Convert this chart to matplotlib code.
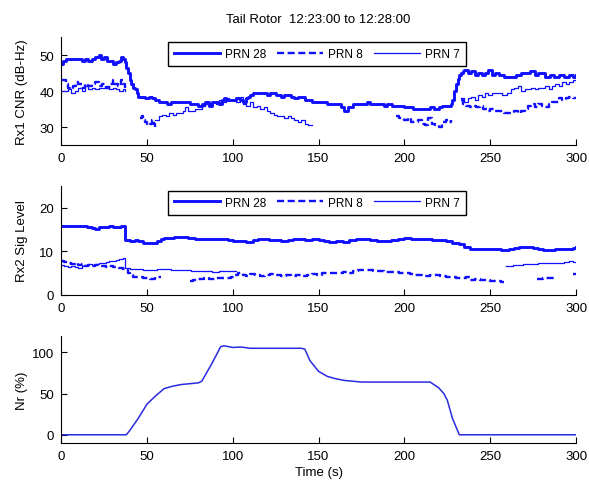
import numpy as np
import matplotlib
matplotlib.use("Agg")
import matplotlib.pyplot as plt

plt.rcParams['font.family'] = ['Liberation Sans', 'DejaVu Sans']
plt.rcParams['font.size'] = 9.5

BLUE = '#1010ff'

# ---- Rx1 carrier-to-noise (dB-Hz) ----
rx1_prn28_t = [0, 1, 3, 6, 9, 12, 14, 16, 18, 20, 22, 23, 25, 27, 29, 30, 32, 34, 35, 36, 37, 38, 39, 40,
               41, 42, 43, 44, 45, 47, 49, 51, 53, 55, 57, 60, 62, 64, 68, 72, 75, 78, 80, 82, 84, 86, 88,
               90, 92, 94, 95, 96, 98, 100, 102, 104, 106, 108, 109, 110, 112, 115, 118, 120, 122, 125, 128,
               130, 132, 134, 136, 138, 140, 142, 144, 146, 150, 155, 160, 163, 165, 167, 170, 175, 178, 180,
               185, 188, 190, 193, 196, 200, 203, 205, 208, 212, 215, 217, 220, 222, 225, 227, 228, 229, 230,
               231, 232, 233, 234, 235, 237, 239, 241, 243, 245, 247, 249, 251, 253, 255, 258, 260, 263, 265,
               268, 270, 273, 276, 278, 280, 282, 285, 287, 290, 293, 296, 298, 300]
rx1_prn28_v = [47.5, 48.5, 49, 49, 49, 48.5, 49, 48.5, 49, 49.5, 50, 49, 49.5, 48.5, 48.5, 47.5, 48, 48.5,
               49.5, 49, 48, 46.5, 45, 43, 42, 41, 40.5, 39.5, 38.5, 38.5, 38, 38.5, 38, 37.5, 37, 37, 36.5,
               37, 37, 37, 36.5, 36.5, 36, 36.5, 37, 36, 37, 37, 36.5, 37.5, 38, 37.5, 37.5, 37.5, 38, 37.5,
               37, 38, 38.5, 39, 39.5, 39.5, 39.5, 39, 39.5, 39, 38.5, 39, 39, 38.5, 38, 38.5, 38.5, 37.5,
               37.5, 37, 37, 36.5, 36.5, 35.5, 34.5, 35.5, 36.5, 36.5, 37, 36.5, 36.5, 36, 36.5, 36, 36,
               35.5, 35.5, 35, 35, 35, 35.5, 35, 35.5, 36, 36, 36.5, 37.5, 40, 42, 43.5, 44.5, 45, 45.5, 46,
               45, 45.5, 44.5, 45, 44.5, 45, 46, 44.5, 45, 44.5, 44, 44, 44, 44.5, 45, 45, 45.5, 44.5, 45,
               45, 44, 44.5, 44, 44.5, 44, 44.5, 44, 44.5]

rx1_prn8_t = [[0, 2, 3, 4, 5, 7, 9, 10, 12, 14, 16, 18, 20, 22, 24, 26, 28, 30, 31, 33, 34, 35, 36, 37],
              [46, 47, 48, 49, 50, 51, 52, 53, 54, 55],
              [195, 197, 200, 202, 204, 206, 208, 210, 212, 214, 216, 218, 220, 222, 224, 226, 227],
              [233, 234, 236, 238, 240, 242, 244, 246, 248, 250, 252, 255, 258, 261, 264, 266, 268, 270,
               272, 274, 276, 278, 280, 282, 284, 286, 288, 290, 292, 294, 296, 298, 300]]
rx1_prn8_v = [[43, 43, 42, 41, 40.5, 41.5, 42.5, 42, 41, 42, 41.5, 42, 42.5, 41.5, 42, 41, 42, 43, 42,
               41.5, 42, 43, 42, 41],
              [32.5, 33, 32, 31.5, 31, 30.5, 31, 32, 31, 30],
              [33, 32.5, 32, 32.5, 31.5, 31.5, 32, 31, 30.5, 32.5, 31, 30.5, 30, 31.5, 32, 31.5, 32],
              [37.5, 36.5, 36, 35.5, 36, 35.5, 36, 35, 34.5, 35, 34.5, 34.5, 34, 34, 34.5, 34, 34.5, 35,
               36, 36.5, 35.5, 36.5, 36, 35.5, 36.5, 37, 37, 38, 37.5, 38, 38.5, 38, 38.5]]

rx1_prn7_t = [[0, 2, 4, 6, 8, 10, 12, 14, 16, 18, 20, 22, 24, 26, 28, 30, 32, 34, 36, 37],
              [55, 57, 59, 61, 63, 65, 67, 69, 71, 72, 74, 76, 78, 80, 82, 84, 86, 88, 90, 92, 94, 96, 98,
               100, 102, 104, 105, 106, 108, 110, 112, 114, 116, 118, 120, 122, 124, 126, 128, 130, 132,
               134, 136, 138, 140, 142, 144, 146],
              [233, 235, 237, 239, 241, 243, 245, 247, 249, 251, 254, 257, 260, 262, 264, 266, 268, 270,
               272, 274, 276, 278, 280, 282, 284, 286, 288, 290, 292, 294, 296, 298, 300]]
rx1_prn7_v = [[40, 40, 40.5, 39.5, 40, 41, 40, 41.5, 40.5, 41, 40.5, 41, 41, 41.5, 40.5, 41, 40.5, 40,
               40.5, 40],
              [32, 33, 33.5, 33, 34, 33.5, 34, 34, 34.5, 35.5, 34.5, 34.5, 35, 35, 36, 36.5, 36.5, 37,
               36.5, 37.5, 37, 38, 37.5, 37.5, 37, 37.5, 38.5, 36.5, 36, 37, 35.5, 36, 35, 35.5, 34.5, 34,
               33.5, 33, 33, 32.5, 33, 32.5, 32, 31.5, 32, 31, 30.5, 30.5],
              [38, 37, 38, 38.5, 37.5, 39, 38.5, 39.5, 39, 39.5, 39.5, 39, 39.5, 40.5, 41, 41.5, 40, 40.5,
               40.5, 41, 40.5, 41, 41, 41.5, 40.5, 41.5, 42, 41.5, 42.5, 42, 42.5, 43, 42.5]]

# ---- Rx2 signal level ----
rx2_prn28_t = [0, 5, 10, 15, 18, 20, 22, 25, 28, 30, 35, 37, 37.5, 40, 43, 45, 48, 50, 53, 56, 58, 60, 63,
               66, 70, 74, 78, 82, 86, 90, 94, 97, 100, 104, 108, 112, 115, 118, 121, 125, 128, 132, 135,
               138, 142, 146, 150, 153, 156, 160, 164, 168, 172, 176, 180, 184, 188, 192, 196, 200, 204,
               208, 212, 216, 220, 224, 228, 232, 235, 238, 241, 245, 248, 252, 256, 258, 261, 264, 267,
               270, 273, 275, 278, 281, 284, 288, 292, 295, 298, 300]
rx2_prn28_v = [15.8, 15.8, 15.8, 15.6, 15.3, 15, 15.5, 15.6, 15.8, 15.6, 15.8, 15.8, 12.5, 12.4, 12.5,
               12.3, 12, 11.8, 12, 12.3, 12.8, 13, 13.1, 13.2, 13.2, 13, 12.9, 12.8, 12.9, 12.7, 12.8,
               12.5, 12.3, 12.4, 12.2, 12.5, 12.7, 12.8, 12.6, 12.6, 12.4, 12.5, 12.7, 12.7, 12.6, 12.8,
               12.6, 12.4, 12.2, 12.3, 12.2, 12.6, 12.8, 12.7, 12.5, 12.4, 12.3, 12.6, 12.8, 13, 12.9, 12.7,
               12.8, 12.6, 12.5, 12.3, 12, 11.6, 11, 10.6, 10.4, 10.5, 10.6, 10.4, 10.3, 10.2, 10.5, 10.7,
               10.9, 11, 10.9, 10.7, 10.4, 10.2, 10.3, 10.4, 10.5, 10.6, 10.8, 11]

rx2_prn8_t = [[0, 2, 4, 6, 8, 10, 12, 14, 16, 18, 20, 22, 24, 26, 28, 30, 32, 34, 36, 38, 39, 40, 42,
               44, 46, 48, 50, 52, 55, 58],
              [75, 77, 80, 83, 86, 90, 93, 96, 99, 101, 103, 106, 108, 110, 113, 116, 119, 122, 125, 128,
               131, 134, 137, 140, 143, 146, 149, 152, 155, 158, 161, 164, 167, 170, 173, 176, 179, 182,
               185, 188, 191, 194, 197, 200, 203, 206, 209, 212, 215, 218, 221, 224, 227, 230, 233, 236,
               238, 241, 244, 247, 250, 253, 256, 258],
              [277, 281, 284, 287, 288],
              [298, 300]]
rx2_prn8_v = [[7.8, 7.5, 7.2, 7, 7.2, 6.8, 7, 6.7, 6.9, 6.5, 6.8, 6.7, 6.6, 6.4, 6.5, 6.3, 6.4, 6.2,
               6, 5.6, 5, 4.5, 4.2, 4, 4, 3.8, 3.8, 3.7, 4, 4],
              [3.2, 3.4, 3.6, 3.8, 3.7, 3.8, 3.9, 3.8, 4.2, 4.5, 5, 4.6, 4.4, 4.7, 4.5, 4.3, 4.5, 4.7,
               4.6, 4.3, 4.5, 4.4, 4.5, 4.3, 4.5, 4.7, 4.6, 4.9, 5, 5.1, 5, 5.2, 5.1, 5.4, 5.6, 5.8, 5.6,
               5.4, 5.5, 5.2, 5.3, 5.2, 5, 5, 4.8, 4.5, 4.6, 4.4, 4.5, 4.5, 4.3, 4.2, 4, 3.9, 3.8, 4, 3.5,
               3.6, 3.4, 3.5, 3.2, 3.2, 3.0, 3.0],
              [3.7, 3.8, 3.8, 4.0, 4.0],
              [4.7, 4.7]]

rx2_prn7_t = [[0, 2, 4, 6, 8, 10, 12, 14, 16, 18, 20, 22, 24, 26, 28, 30, 32, 34, 36, 37, 37.5, 40, 44,
               48, 52, 56, 60, 64, 68, 72, 76, 80, 84, 88, 92, 96, 100, 102],
              [259, 261, 263, 266, 269, 272, 275, 278, 281, 284, 287, 290, 293, 296, 298, 300]]
rx2_prn7_v = [[6.8, 6.5, 6.3, 6.5, 6.4, 6.2, 6.5, 6.8, 7, 6.8, 7.1, 7.2, 7.4, 7.6, 7.7, 7.8, 8, 8.2,
               8.4, 8.5, 6.2, 6, 5.9, 5.8, 5.7, 5.9, 6, 5.8, 5.8, 5.6, 5.5, 5.4, 5.4, 5.3, 5.4, 5.5, 5.5,
               5.4],
              [6.5, 6.7, 6.9, 6.8, 7, 7.1, 7, 7.3, 7.2, 7.3, 7.4, 7.3, 7.5, 7.7, 7.6, 7.6]]

# ---- Rotor speed Nr (%) ----
nr_t = [0, 38, 40, 45, 50, 55, 60, 65, 70, 75, 80, 82, 88, 93, 95, 100, 105, 110, 140, 142, 145, 150,
        155, 160, 165, 175, 215, 220, 223, 225, 228, 232, 300]
nr_v = [0, 0, 5, 20, 37, 47, 56, 59, 61, 62, 63, 65, 87, 107, 108, 106, 106.5, 105, 105, 104, 90, 77,
        71, 68, 66, 64, 64, 57, 50, 42, 20, 0, 0]

legend_labels = ['PRN 28', 'PRN 8', 'PRN 7']
x_ticks = [0, 50, 100, 150, 200, 250, 300]


def join_segments(ts, vs):
    """Concatenate gap-separated segments with NaN breaks."""
    t_all, v_all = [], []
    for t, v in zip(ts, vs):
        t_all += list(t) + [np.nan]
        v_all += list(v) + [np.nan]
    return np.array(t_all), np.array(v_all)


def style_axes(ax, yticks, ylim):
    ax.set_xlim(0, 300)
    ax.set_ylim(*ylim)
    ax.set_xticks(x_ticks)
    ax.set_yticks(yticks)
    ax.spines['top'].set_visible(False)
    ax.spines['right'].set_visible(False)
    ax.tick_params(direction='in', length=4, width=0.8, pad=5)


def add_legend(ax):
    leg = ax.legend(loc='upper center', bbox_to_anchor=(0.497, 0.955), ncol=3, frameon=True,
                    fancybox=False, edgecolor='black', framealpha=1, handlelength=3.9,
                    columnspacing=0.9, handletextpad=0.45, borderpad=0.5, borderaxespad=0,
                    fontsize=8.5)
    leg.get_frame().set_linewidth(1.0)


fig = plt.figure(figsize=(5.89, 4.89), dpi=100)
ax1 = fig.add_axes([0.1036, 0.701, 0.8744, 0.221])
ax2 = fig.add_axes([0.1036, 0.395, 0.8744, 0.223])
ax3 = fig.add_axes([0.1036, 0.092, 0.8744, 0.219])

# Panel 1
ax1.plot(rx1_prn28_t, rx1_prn28_v, color=BLUE, lw=2.1, drawstyle='steps-post', label=legend_labels[0])
t, v = join_segments(rx1_prn8_t, rx1_prn8_v)
ax1.plot(t, v, color=BLUE, lw=1.7, ls=(0, (3, 1.5)), drawstyle='steps-post', label=legend_labels[1])
t, v = join_segments(rx1_prn7_t, rx1_prn7_v)
ax1.plot(t, v, color=BLUE, lw=0.9, drawstyle='steps-post', label=legend_labels[2])
style_axes(ax1, [30, 40, 50], (25, 55))
ax1.set_ylabel('Rx1 CNR (dB-Hz)')
ax1.set_title('Tail Rotor  12:23:00 to 12:28:00', fontsize=9.5, pad=11)
add_legend(ax1)

# Panel 2
ax2.plot(rx2_prn28_t, rx2_prn28_v, color=BLUE, lw=2.1, drawstyle='steps-post', label=legend_labels[0])
t, v = join_segments(rx2_prn8_t, rx2_prn8_v)
ax2.plot(t, v, color=BLUE, lw=1.7, ls=(0, (3, 1.5)), drawstyle='steps-post', label=legend_labels[1])
t, v = join_segments(rx2_prn7_t, rx2_prn7_v)
ax2.plot(t, v, color=BLUE, lw=0.9, drawstyle='steps-post', label=legend_labels[2])
style_axes(ax2, [0, 10, 20], (0, 25))
ax2.set_ylabel('Rx2 Sig Level')
add_legend(ax2)

# Panel 3
ax3.plot(nr_t, nr_v, color='#2a2ae0', lw=1.1)
style_axes(ax3, [0, 50, 100], (-10, 120))
ax3.set_ylabel('Nr (%)')
ax3.set_xlabel('Time (s)', labelpad=3)

for ax in (ax1, ax2, ax3):
    ax.yaxis.set_label_coords(-0.064, 0.5)

fig.savefig('out.png', dpi=100)
